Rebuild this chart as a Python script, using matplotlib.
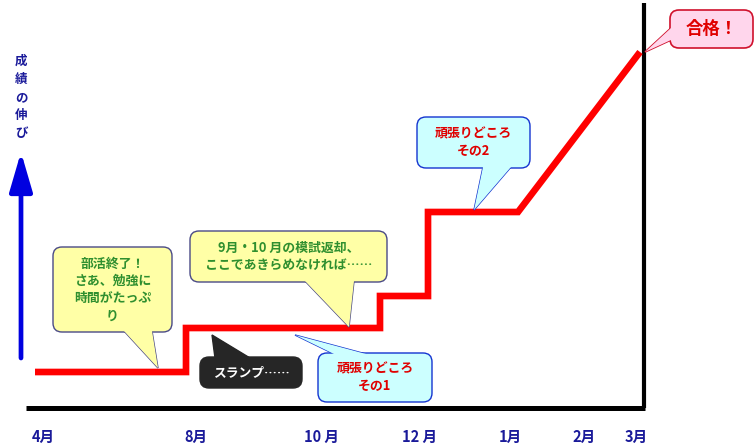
import matplotlib
matplotlib.use("Agg")
import matplotlib.pyplot as plt
from matplotlib.patches import FancyBboxPatch, Polygon

plt.rcParams["font.family"] = ["Noto Sans CJK JP", "DejaVu Sans"]

# ── Data (horizontal position / score height in canvas units) ─────────────
MONTH_LABELS = ["4月", "8月", "10 月", "12 月", "1月", "2月", "3月"]
MONTH_POS    = [43, 196, 321, 420, 510, 584, 636]

PROGRESS_X = [35, 186, 186, 380, 380, 428, 428, 518, 640]
PROGRESS_Y = [76, 76, 120, 120, 152, 152, 236, 236, 396]

W, H = 756, 448

RED       = "#ff0000"
NAVY      = "#1a1a9a"
BLUE      = "#0000e0"
GREEN     = "#2f8f2f"
YELLOW    = "#ffffa6"
YEL_EDGE  = "#4a4a86"
CYAN      = "#ccffff"
CYAN_EDGE = "#1434d0"
PINK      = "#ffd6ec"
PINK_EDGE = "#d0102c"
DARK      = "#262626"


def callout(ax, box, tail, face, edge, text, color, size, lw=1.0):
    """box=(x0, top, x1, bottom) in screen px, tail=[(x,y)...] base-tip-base."""
    x0, top, x1, bot = box
    tail_pts = [(x, H - y) for x, y in tail]
    ax.add_patch(Polygon(tail_pts, closed=True, facecolor=face,
                         edgecolor=edge, linewidth=lw, zorder=5))
    ax.add_patch(FancyBboxPatch((x0, H - bot), x1 - x0, bot - top,
                                boxstyle="round,pad=0,rounding_size=9",
                                facecolor=face, edgecolor=edge,
                                linewidth=lw, zorder=6))
    ax.add_patch(Polygon(tail_pts, closed=True, facecolor=face,
                         edgecolor="none", zorder=7))
    ax.text((x0 + x1) / 2, H - (top + bot) / 2, text, color=color,
            fontsize=size, fontweight="bold", ha="center", va="center",
            linespacing=1.3, zorder=8)


fig = plt.figure(figsize=(7.56, 4.48), dpi=100, facecolor="white")
ax = fig.add_axes([0, 0, 1, 1])
ax.set_xlim(0, W)
ax.set_ylim(0, H)
ax.axis("off")

# axes lines
ax.plot([26, 645], [H - 408, H - 408], color="black", linewidth=3.6,
        solid_capstyle="butt", zorder=3)
ax.plot([644, 644], [H - 408, H - 3], color="black", linewidth=3.0,
        solid_capstyle="butt", zorder=3)

# progress line
ax.plot(PROGRESS_X, PROGRESS_Y, color=RED, linewidth=4.8,
        solid_joinstyle="miter", solid_capstyle="butt", zorder=4)

# month labels
for pos, lab in zip(MONTH_POS, MONTH_LABELS):
    ax.text(pos, H - 437, lab, color=NAVY, fontsize=10.5, fontweight="bold",
            ha="center", va="center")

# y label & arrow
for i, ch in enumerate("成績の伸び"):
    ax.text(21, H - (61 + i * 18.2), ch, color=NAVY, fontsize=9,
            fontweight="bold", ha="center", va="center")
ax.annotate("", xy=(21, H - 152), xytext=(21, H - 358),
            arrowprops=dict(arrowstyle="-|>,head_width=0.35,head_length=1.2",
                            color=BLUE, lw=3.4, mutation_scale=20,
                            shrinkA=0, shrinkB=0))

# callouts
callout(ax, (53, 247, 172, 332), [(124, 331), (158, 368), (152, 331)],
        YELLOW, YEL_EDGE, "部活終了！\nさあ、勉強に\n時間がたっぷ\nり",
        GREEN, 9.3)
callout(ax, (190, 231, 387, 282), [(305, 281), (349, 327), (354, 281)],
        YELLOW, YEL_EDGE, "9月・10 月の模試返却、\nここであきらめなければ……",
        GREEN, 9.3)
callout(ax, (200, 357, 302, 388), [(215, 358), (212, 335), (250, 358)],
        DARK, DARK, "スランプ……", "white", 9.2)
callout(ax, (318, 353, 432, 402), [(334, 354), (295, 335), (366, 354)],
        CYAN, CYAN_EDGE, "頑張りどころ\nその1", "#e00000", 9.3)
callout(ax, (417, 117, 530, 168), [(483, 167), (474, 210), (511, 167)],
        CYAN, CYAN_EDGE, "頑張りどころ\nその2", "#e00000", 9.3)
callout(ax, (670, 10, 753, 48), [(671, 28), (645, 52), (671, 40)],
        PINK, PINK_EDGE, "合格！", "#e00000", 12.5, lw=1.2)

fig.savefig("out.png", dpi=100, facecolor="white")
